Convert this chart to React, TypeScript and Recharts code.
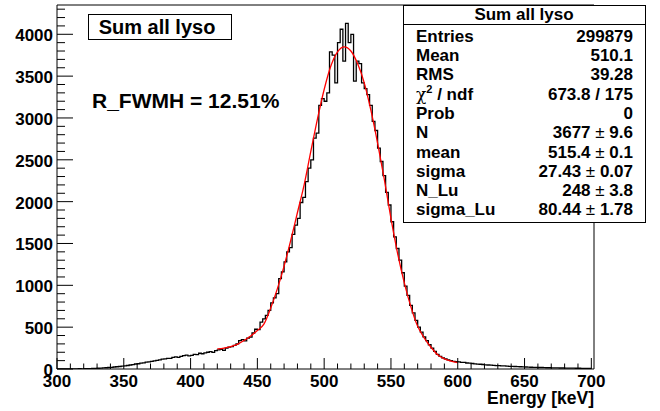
import React from 'react';
import {ComposedChart, Line, XAxis, YAxis, ReferenceArea} from 'recharts';

const FONT = "'Liberation Sans', Arial, Helvetica, sans-serif";

// histogram: 2 keV bins starting at 300 keV (counts per keV)
const energyLow = 300;
const binWidth = 2;
const counts = [
    0, 0, 1, 0, 1, 1, 2, 1, 3, 2,
    3, 4, 5, 6, 8, 9, 10, 13, 15, 18,
    20, 24, 27, 30, 35, 38, 42, 48, 52, 60,
    63, 70, 73, 82, 86, 92, 98, 104, 110, 118,
    122, 128, 126, 138, 145, 140, 152, 160, 166, 158,
    164, 175, 172, 188, 182, 192, 200, 208, 198, 220,
    228, 236, 222, 250, 262, 268, 282, 300, 340, 350,
    335, 370, 380, 430, 475, 470, 560, 600, 640, 700,
    790, 850, 900, 1080, 1160, 1280, 1400, 1450, 1610, 1720,
    1800, 1990, 2050, 2240, 2400, 2500, 2760, 2820, 3150, 3230,
    3200, 3300, 3790, 3750, 3420, 3900, 4060, 3680, 4130, 3900,
    4000, 3440, 3680, 3650, 3420, 3350, 3280, 3150, 2960, 2850,
    2640, 2480, 2310, 2110, 1960, 1760, 1580, 1440, 1300, 1150,
    990, 880, 760, 670, 580, 500, 440, 385, 340, 290,
    250, 210, 175, 152, 134, 120, 108, 100, 92, 88,
    85, 80, 78, 72, 70, 66, 62, 58, 57, 54,
    50, 48, 46, 44, 41, 40, 38, 37, 34, 32,
    31, 30, 28, 27, 25, 24, 22, 21, 20, 19,
    18, 18, 16, 15, 15, 14, 13, 13, 12, 12,
    11, 11, 10, 10, 9, 9, 8, 8, 8, 7,
];

// fit function (gaus + Lu background)
const fitEnergy = [
    420, 425, 430, 435, 440, 445, 450, 455, 460, 465, 470, 475, 480, 485, 490, 495,
    500, 505, 510, 515, 520, 525, 530, 535, 540, 545, 550, 555, 560, 565, 570, 575,
    580, 585, 590, 595, 600,
];
const fitCounts = [
    240, 250, 268, 295, 340, 395, 460, 540, 730, 960, 1230, 1540, 1870, 2200, 2600, 2990,
    3340, 3620, 3790, 3850, 3800, 3650, 3420, 3090, 2700, 2270, 1800, 1380, 1030, 740, 510, 370,
    260, 170, 120, 95, 75,
];

const statLabels = ['Entries', 'Mean', 'RMS', 'chi2', 'Prob', 'N', 'mean', 'sigma', 'N_Lu', 'sigma_Lu'];
const statValues = ['299879', '510.1', '39.28', '673.8 / 175', '0', '3677 ± 9.6', '515.4 ± 0.1',
    '27.43 ± 0.07', '248 ± 3.8', '80.44 ± 1.78'];

const xTicks = Array.from({length: 41}, (_, i) => 300 + i * 10);
const yTicks = Array.from({length: 44}, (_, i) => i * 100);

const histData = counts.map((c, i) => ({e: energyLow + i * binWidth, c}))
    .concat([{e: energyLow + counts.length * binWidth, c: counts[counts.length - 1]}]);
const fitData = fitEnergy.map((e, i) => ({e, c: fitCounts[i]}));

const XTick = (props) => {
    const {x, y, payload} = props;
    const v = payload.value;
    const major = v % 50 === 0;
    return (
        <g>
            <line x1={x} x2={x} y1={y} y2={y - (major ? 11 : 5.5)} stroke="#000"/>
            {major && <text x={x} y={y + 17.5} textAnchor="middle" fontFamily={FONT} fontWeight="bold"
                            fontSize={17} fill="#000">{v}</text>}
        </g>
    );
};

const YTick = (props) => {
    const {x, y, payload} = props;
    const v = payload.value;
    const major = v % 500 === 0;
    return (
        <g>
            <line x1={x} x2={x + (major ? 16 : 8)} y1={y} y2={y} stroke="#000"/>
            {major && <text x={x - 4} y={y + 7} textAnchor="end" fontFamily={FONT} fontWeight="bold"
                            fontSize={17} fill="#000">{v}</text>}
        </g>
    );
};

const StatValue = ({text, x, y}) => {
    const parts = text.split('±');
    return (
        <text x={x} y={y} textAnchor="end" fontFamily={FONT} fontWeight="bold" fontSize={17} fill="#000">
            {parts[0]}
            {parts.length > 1 && <tspan fontWeight="normal">±</tspan>}
            {parts.length > 1 && parts[1]}
        </text>
    );
};

export default function App() {
    return (
        <div style={{position: 'absolute', left: 0, top: 0, width: 660, height: 411, background: '#fff'}}>
            <ComposedChart width={660} height={411} margin={{top: 5, right: 66, left: 0, bottom: 0}}>
                <XAxis dataKey="e" type="number" domain={[300, 702]} ticks={xTicks} interval={0}
                       allowDataOverflow axisLine={false} tickLine={false} tickSize={0} tickMargin={0}
                       height={42} tick={XTick}/>
                <YAxis type="number" domain={[0, 4350]} ticks={yTicks} interval={0} allowDataOverflow
                       axisLine={false} tickLine={false} tickSize={0} tickMargin={0} width={57} tick={YTick}/>
                <ReferenceArea x1={300} x2={702} y1={0} y2={4350} fill="none" stroke="#000" strokeWidth={1}
                               ifOverflow="visible"/>
                <Line data={histData} dataKey="c" type="stepAfter" stroke="#000" strokeWidth={1.3}
                      dot={false} activeDot={false} isAnimationActive={false}/>
                <Line data={fitData} dataKey="c" type="monotone" stroke="#ff0000" strokeWidth={1.3}
                      dot={false} activeDot={false} isAnimationActive={false}/>
            </ComposedChart>
            <svg width={660} height={411} style={{position: 'absolute', left: 0, top: 0, pointerEvents: 'none'}}>
                <text x={594} y={404} textAnchor="end" fontFamily={FONT} fontWeight="bold" fontSize={17.5}
                      fill="#000">Energy [keV]</text>

                <rect x={88.5} y={14.5} width={143} height={25} fill="#fff" stroke="#000"/>
                <text x={157} y={33.5} textAnchor="middle" fontFamily={FONT} fontWeight="bold" fontSize={20}
                      fill="#000">Sum all lyso</text>

                <text x={92} y={108} fontFamily={FONT} fontWeight="bold" fontSize={21} fill="#000">
                    R_FWMH = 12.51%
                </text>

                <rect x={403.5} y={5.5} width={242} height={217} fill="#fff" stroke="#000"/>
                <line x1={403.5} x2={645.5} y1={24.5} y2={24.5} stroke="#000"/>
                <text x={524} y={20} textAnchor="middle" fontFamily={FONT} fontWeight="bold" fontSize={17}
                      fill="#000">Sum all lyso</text>
                {statLabels.map((label, i) => {
                    const y = 41.7 + i * 19.3;
                    return (
                        <g key={label}>
                            {label === 'chi2' ? (
                                <text x={416} y={y} fontFamily={FONT} fontWeight="bold" fontSize={17} fill="#000">
                                    <tspan fontWeight="normal" fontFamily="'DejaVu Serif', serif">χ</tspan>
                                    <tspan fontSize={11} dy={-7}>2</tspan>
                                    <tspan dy={7}> / ndf</tspan>
                                </text>
                            ) : (
                                <text x={416} y={y} fontFamily={FONT} fontWeight="bold" fontSize={17}
                                      fill="#000">{label}</text>
                            )}
                            <StatValue text={statValues[i]} x={633} y={y}/>
                        </g>
                    );
                })}
            </svg>
        </div>
    );
}
